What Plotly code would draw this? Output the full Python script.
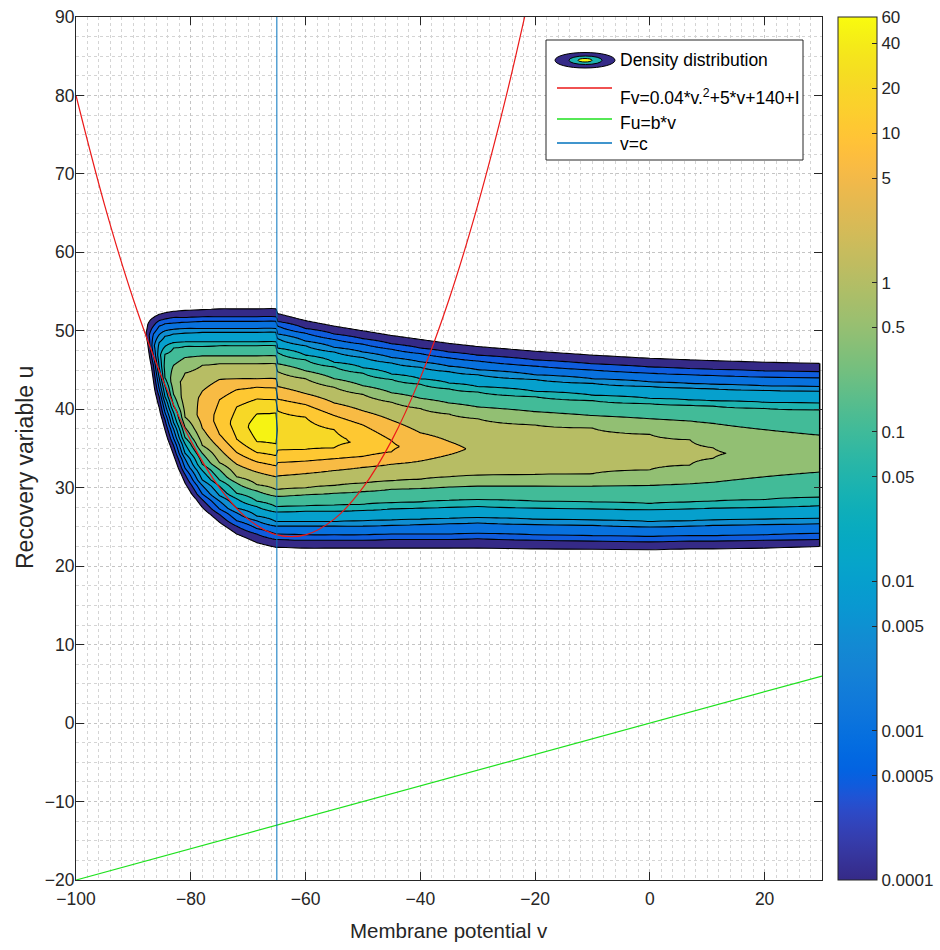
import numpy as np
import plotly.graph_objects as go

# ---------------- data ----------------
# density contour levels (also the colour-bar ticks)
density_levels = [1e-4, 5e-4, 1e-3, 5e-3, 0.01, 0.05, 0.1, 0.5, 1, 5, 10, 20, 40, 60]
colorbar_labels = ["0.0001", "0.0005", "0.001", "0.005", "0.01", "0.05", "0.1",
                   "0.5", "1", "5", "10", "20", "40", "60"]

# density map, read column by column (v = membrane potential)
col_v = [-88.3, -87.5, -86.5, -85.5, -84.5, -83.0, -81.0, -78.0, -75.0, -72.0, -68.5,
         -65.15, -64.85, -60.0, -55.0, -50.0, -45.0, -40.0, -35.0, -30.0, -20.0,
         -10.0, 0.0, 7.0, 11.0, 20.0, 29.6]
# u of the density maximum in each column, and that maximum as a level position
col_center_u = [49.8, 49.4, 48.1, 46.9, 45.5, 43.5, 41.5, 39.3, 38.5, 38.1, 37.7,
                37.5, 37.3, 36.8, 36.2, 35.8, 35.3, 35.2, 35.0, 34.9, 34.7,
                34.6, 34.5, 34.45, 34.4, 34.4, 34.35]
col_peak_level = [-0.8, 0.6, 2.8, 4.7, 6.3, 7.7, 8.6, 9.4, 10.4, 11.4, 12.5,
                  12.7, 11.7, 11.5, 11.2, 10.9, 10.1, 9.75, 9.3, 8.8, 8.6,
                  8.45, 8.3, 8.18, 8.05, 7.85, 7.7]
# u where each contour level is crossed below the maximum (level 0 first)
col_lower_u = [
    [],
    [48.3],
    [43.6, 45.6, 46.8],
    [40.2, 41.6, 42.6, 44.0, 45.3],
    [37.4, 38.7, 39.6, 40.8, 41.6, 43.0, 44.0],
    [34.2, 35.4, 36.3, 37.5, 38.3, 39.6, 40.4, 41.9],
    [30.6, 31.7, 32.5, 33.7, 34.4, 35.6, 36.4, 37.7, 39.0],
    [27.5, 28.5, 29.2, 30.3, 31.0, 32.2, 33.0, 34.4, 35.4, 37.6],
    [25.6, 26.6, 27.3, 28.3, 29.0, 30.2, 31.0, 32.3, 33.2, 35.0, 36.8],
    [24.1, 25.1, 25.8, 26.8, 27.4, 28.6, 29.3, 30.6, 31.4, 33.0, 34.5, 36.2],
    [23.0, 24.1, 24.8, 25.8, 26.4, 27.6, 28.3, 29.6, 30.4, 32.0, 33.3, 34.5, 35.9],
    [22.4, 23.4, 24.1, 25.1, 25.7, 26.9, 27.6, 28.9, 29.8, 31.4, 32.8, 34.1, 35.6],
    [22.4, 23.4, 24.1, 25.1, 25.7, 26.9, 27.6, 28.9, 29.8, 31.5, 33.2, 34.8],
    [22.3, 23.3, 24.0, 25.1, 25.7, 27.0, 27.7, 29.1, 30.0, 31.8, 33.4, 34.9],
    [22.3, 23.3, 24.0, 25.1, 25.7, 27.0, 27.8, 29.3, 30.3, 32.2, 33.7, 35.1],
    [22.3, 23.3, 24.0, 25.1, 25.8, 27.1, 27.9, 29.5, 30.6, 32.6, 34.0],
    [22.3, 23.4, 24.1, 25.2, 25.9, 27.3, 28.1, 29.8, 30.9, 33.0, 34.6],
    [22.3, 23.4, 24.1, 25.3, 26.0, 27.4, 28.2, 29.9, 31.1, 33.4],
    [22.3, 23.4, 24.1, 25.4, 26.1, 27.5, 28.4, 30.1, 31.4, 34.2],
    [22.3, 23.5, 24.2, 25.5, 26.2, 27.6, 28.5, 30.2, 31.6],
    [22.2, 23.3, 24.0, 25.3, 26.0, 27.4, 28.3, 30.2, 31.7],
    [22.15, 23.2, 23.9, 25.2, 25.9, 27.3, 28.2, 30.2, 31.8],
    [22.1, 23.1, 23.8, 25.0, 25.7, 27.2, 28.0, 30.3, 32.3],
    [22.2, 23.2, 23.9, 25.1, 25.8, 27.3, 28.2, 30.5, 32.9],
    [22.2, 23.2, 23.9, 25.2, 25.9, 27.4, 28.3, 30.7, 33.75],
    [22.3, 23.3, 24.0, 25.3, 26.0, 27.5, 28.5, 31.4],
    [22.5, 23.4, 24.2, 25.4, 26.1, 27.7, 28.8, 32.0],
]
# u where each contour level is crossed above the maximum (level 0 first)
col_upper_u = [
    [],
    [50.8],
    [51.7, 50.6, 49.6],
    [52.1, 51.3, 50.6, 49.5, 48.5],
    [52.3, 51.5, 50.9, 50.0, 49.3, 48.0, 47.0],
    [52.5, 51.7, 51.0, 50.2, 49.6, 48.5, 47.8, 45.6],
    [52.6, 51.7, 51.1, 50.3, 49.7, 48.6, 48.0, 46.6, 44.6],
    [52.7, 51.8, 51.2, 50.3, 49.8, 48.6, 48.0, 46.8, 45.6, 42.3],
    [52.8, 51.8, 51.2, 50.3, 49.8, 48.6, 48.1, 46.8, 45.8, 43.8, 41.2],
    [52.8, 51.8, 51.2, 50.3, 49.8, 48.6, 48.1, 46.8, 45.8, 43.9, 42.5, 40.3],
    [52.8, 51.8, 51.2, 50.3, 49.8, 48.6, 48.1, 46.8, 45.8, 43.9, 42.8, 41.3, 39.4],
    [52.8, 51.8, 51.2, 50.3, 49.8, 48.6, 48.1, 46.8, 45.8, 43.9, 42.7, 41.2, 39.5],
    [52.2, 51.2, 50.6, 49.6, 49.0, 47.8, 47.2, 45.8, 44.8, 42.9, 41.3, 39.8],
    [51.3, 50.3, 49.7, 48.7, 48.1, 46.9, 46.3, 44.9, 43.9, 42.0, 40.6, 39.0],
    [50.6, 49.6, 48.9, 47.9, 47.3, 46.0, 45.4, 43.9, 42.8, 40.8, 39.2, 37.4],
    [50.0, 49.0, 48.3, 47.3, 46.6, 45.3, 44.6, 43.0, 41.9, 39.8, 38.0],
    [49.4, 48.35, 47.65, 46.6, 45.9, 44.5, 43.8, 42.1, 40.9, 38.6, 36.0],
    [48.9, 47.8, 47.1, 46.05, 45.35, 43.9, 43.2, 41.4, 40.1, 37.0],
    [48.4, 47.3, 46.55, 45.5, 44.8, 43.35, 42.6, 40.8, 39.4, 35.9],
    [48.0, 46.9, 46.15, 45.05, 44.4, 42.9, 42.2, 40.3, 38.8],
    [47.4, 46.3, 45.5, 44.4, 43.8, 42.3, 41.6, 39.7, 38.0],
    [46.9, 45.8, 45.0, 43.9, 43.3, 41.8, 41.1, 39.2, 37.6],
    [46.5, 45.4, 44.6, 43.5, 42.9, 41.4, 40.7, 38.8, 36.8],
    [46.3, 45.2, 44.4, 43.3, 42.7, 41.2, 40.5, 38.5, 36.1],
    [46.2, 45.1, 44.3, 43.2, 42.6, 41.1, 40.4, 38.2, 35.1],
    [46.0, 44.9, 44.1, 43.0, 42.4, 40.9, 40.1, 37.4],
    [45.85, 44.8, 44.0, 42.9, 42.3, 40.8, 39.9, 36.7],
]

# nullclines and reset line
fv_v = [-100, -95, -90, -85, -80, -75, -70, -65, -60, -55, -50, -45, -40, -35, -30, -25, -20]
fv_u = [80, 66, 54, 44, 36, 30, 26, 24, 24, 26, 30, 36, 44, 54, 66, 80, 96]
fu_v = [-100, 30]
fu_u = [-20, 6]
reset_v = [-65, -65]
reset_u = [-20, 90]

# ---------------- styling ----------------
PARULA = ['#352a87', '#363093', '#3637a0', '#353dad', '#3243ba', '#2c4ac7', '#2053d4', '#0f5cdd',
          '#0363e1', '#0268e1', '#046de0', '#0871de', '#0d75dc', '#1079da', '#127dd8', '#1481d6',
          '#1485d4', '#1389d3', '#108ed2', '#0c93d2', '#0998d1', '#079ccf', '#06a0cd', '#06a4ca',
          '#06a7c6', '#07a9c2', '#0aacbe', '#0faeb9', '#15b1b4', '#1db3af', '#25b5a9', '#2eb7a4',
          '#38b99e', '#42bb98', '#4dbc92', '#59bd8c', '#65be86', '#71bf80', '#7cbf7b', '#87bf77',
          '#92bf73', '#9cbf6f', '#a5be6b', '#aebe67', '#b7bd64', '#c0bc60', '#c8bc5d', '#d1bb59',
          '#d9ba56', '#e1b952', '#e9b94e', '#f1b94a', '#f8bb44', '#fdbe3d', '#ffc337', '#fec832',
          '#fcce2e', '#fad32a', '#f7d826', '#f5de21', '#f5e41d', '#f5eb18', '#f6f313', '#f9fb0e']
parula_scale = [[i / 63, c] for i, c in enumerate(PARULA)]

cmin = np.log10(density_levels[0])
cmax = np.log10(density_levels[-1])
n_lev = len(density_levels)

# MATLAB-like band colours: each band takes the colour of its lower level
band_cols = []
for L in density_levels:
    k = int((np.log10(L) - cmin) / (cmax - cmin) * 64)
    band_cols.append(PARULA[min(k, 63)])
band_scale = [[0.0, 'rgba(255,255,255,0)']]
for i, c in enumerate(band_cols):
    band_scale.append([(i + 1) / n_lev, c])

# build the gridded field (in level-index units) from the column readings;
# outside the outermost contour the fall-off keeps its last slope (clamped)
FLOOR = -3.0
u_grid = np.round(np.arange(17.0, 58.0001, 0.05), 3)
Z = np.full((len(u_grid), len(col_v)), FLOOR)
for j in range(len(col_v)):
    lo, hi = col_lower_u[j], col_upper_u[j]
    c, p = col_center_u[j], col_peak_level[j]
    if not lo:
        slope = 0.9
        pu = [c - (p - FLOOR) / slope, c, c + (p - FLOOR) / slope]
        pz = [FLOOR, p, FLOOR]
    else:
        s_lo = 1.0 / (lo[1] - lo[0]) if len(lo) > 1 else p / (c - lo[0])
        s_hi = 1.0 / (hi[0] - hi[1]) if len(hi) > 1 else p / (hi[0] - c)
        pu = [lo[0] + FLOOR / s_lo] + lo + [c] + hi[::-1] + [hi[0] - FLOOR / s_hi]
        pz = [FLOOR] + list(range(len(lo))) + [p] + list(range(len(hi)))[::-1] + [FLOOR]
    Z[:, j] = np.interp(u_grid, pu, pz, left=FLOOR, right=FLOOR)

FONT = "Liberation Sans, Arial, Helvetica, sans-serif"
INK = '#262626'

fig = go.Figure()

fig.add_trace(go.Contour(
    x=col_v, y=u_grid, z=Z,
    contours=dict(start=0, end=n_lev - 1, size=1, coloring='fill', showlines=True),
    line=dict(color='black', width=1.1, smoothing=0.9),
    colorscale=band_scale, showscale=False, hoverinfo='skip'))

# dark right edge of the density patch
fig.add_trace(go.Scatter(x=[col_v[-1], col_v[-1]], y=[col_lower_u[-1][0], col_upper_u[-1][0]],
                         mode='lines', line=dict(color='black', width=1.5), hoverinfo='skip'))

fig.add_trace(go.Scatter(x=fv_v, y=fv_u, mode='lines',
                         line=dict(color='rgb(235,25,25)', width=1.2, shape='spline'), hoverinfo='skip'))
fig.add_trace(go.Scatter(x=fu_v, y=fu_u, mode='lines', line=dict(color='rgb(30,225,30)', width=1.2),
                         hoverinfo='skip'))
fig.add_trace(go.Scatter(x=reset_v, y=reset_u, mode='lines', line=dict(color='#0072BD', width=1),
                         hoverinfo='skip'))

# colour bar (continuous parula, log scale)
fig.add_trace(go.Scatter(
    x=[None], y=[None], mode='markers', hoverinfo='skip',
    marker=dict(color=[0], colorscale=parula_scale, cmin=cmin, cmax=cmax, showscale=True,
                colorbar=dict(x=(838 - 76) / 746, xanchor='left', xpad=0, ypad=0,
                              y=0.5, yanchor='middle', len=1, lenmode='fraction',
                              thickness=39, thicknessmode='pixels',
                              outlinewidth=1, outlinecolor=INK,
                              ticks='inside', ticklen=5, tickcolor=INK,
                              tickvals=[float(np.log10(v)) for v in density_levels],
                              ticktext=colorbar_labels,
                              tickfont=dict(family=FONT, size=17, color=INK)))))

axis_common = dict(showline=True, linecolor=INK, linewidth=1, mirror='ticks',
                   ticks='inside', ticklen=8, tickcolor=INK, tickwidth=1,
                   showgrid=True, gridcolor='#c4c4c4', griddash='dot', gridwidth=1,
                   zeroline=False, automargin=False,
                   tickfont=dict(family=FONT, size=17.5, color=INK))

fig.update_layout(
    template='none', width=940, height=950, showlegend=False,
    margin=dict(l=76, r=118, t=17, b=70, autoexpand=False),
    paper_bgcolor='white', plot_bgcolor='white',
    xaxis=dict(range=[-100, 30], tick0=0, dtick=20, ticklabelstandoff=3,
               minor=dict(dtick=2, tick0=0, showgrid=True, gridcolor='#d4d4d4', griddash='dot', ticks=''),
               **axis_common),
    yaxis=dict(range=[-20, 90], tick0=0, dtick=10, ticklabelstandoff=-3,
               minor=dict(dtick=2.5, tick0=0, showgrid=True, gridcolor='#d4d4d4', griddash='dot', ticks=''),
               **axis_common),
)


# ---------------- titles and legend (MATLAB style, placed in pixels) ----------------
def px_x(x):
    return (x - 76) / 746


def px_y(y):
    return (880 - y) / 863


shapes = [
    dict(type='rect', xref='paper', yref='paper', x0=px_x(546), x1=px_x(803), y0=px_y(160), y1=px_y(40),
         fillcolor='white', line=dict(color=INK, width=1)),
    dict(type='circle', xref='paper', yref='paper', x0=px_x(555), x1=px_x(615), y0=px_y(68), y1=px_y(52.5),
         fillcolor=PARULA[0], line=dict(color='black', width=1)),
    dict(type='circle', xref='paper', yref='paper', x0=px_x(569), x1=px_x(602), y0=px_y(64.5), y1=px_y(56),
         fillcolor=PARULA[29], line=dict(color='black', width=1)),
    dict(type='circle', xref='paper', yref='paper', x0=px_x(578), x1=px_x(592), y0=px_y(62), y1=px_y(58.5),
         fillcolor=PARULA[63], line=dict(color='black', width=1)),
    dict(type='line', xref='paper', yref='paper', x0=px_x(557), x1=px_x(612), y0=px_y(88), y1=px_y(88),
         line=dict(color='rgb(235,25,25)', width=1.3)),
    dict(type='line', xref='paper', yref='paper', x0=px_x(557), x1=px_x(612), y0=px_y(119), y1=px_y(119),
         line=dict(color='rgb(30,225,30)', width=1.6)),
    dict(type='line', xref='paper', yref='paper', x0=px_x(557), x1=px_x(612), y0=px_y(143), y1=px_y(143),
         line=dict(color='#0072BD', width=1.3)),
]
legend_texts = [("Density distribution", 60.5), ("Fv=0.04*v.<sup>2</sup>+5*v+140+I", 96.5),
                ("Fu=b*v", 123), ("v=c", 143.5)]
annotations = [dict(xref='paper', yref='paper', x=px_x(618), y=px_y(yy), text=t, showarrow=False,
                    xanchor='left', yanchor='middle', font=dict(family=FONT, size=17.5, color='black'))
               for t, yy in legend_texts]
annotations.append(dict(xref='paper', yref='paper', x=px_x(449), y=px_y(930), text='Membrane potential v',
                        showarrow=False, xanchor='center', yanchor='middle',
                        font=dict(family=FONT, size=20.5, color=INK)))
annotations.append(dict(xref='paper', yref='paper', x=px_x(25), y=px_y(468), text='Recovery variable u',
                        showarrow=False, xanchor='center', yanchor='middle', textangle=-90,
                        font=dict(family=FONT, size=23, color=INK)))
fig.update_layout(shapes=shapes, annotations=annotations)

fig.write_html("out.html")
